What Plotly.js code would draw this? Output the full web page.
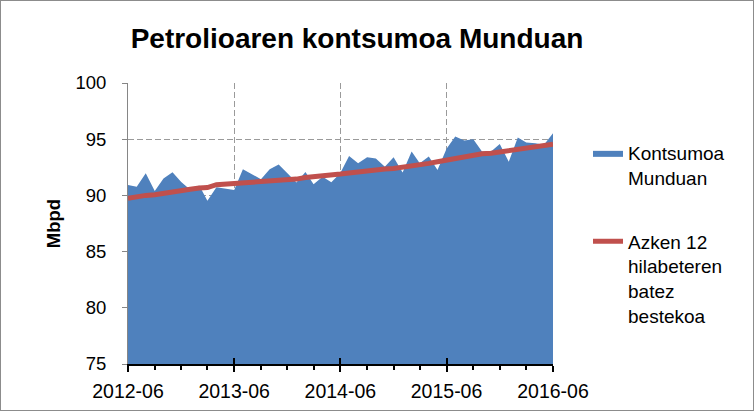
<!DOCTYPE html>
<html><head><meta charset="utf-8">
<script src="https://cdn.plot.ly/plotly-3.0.1.min.js"></script>
<style>
html,body{margin:0;padding:0;background:#fff}
#wrap{position:relative;width:754px;height:411px}
#chart{width:754px;height:411px}
#frame{position:absolute;left:0;top:0;width:754px;height:411px;box-sizing:border-box;border:1px solid #8c8c8c;pointer-events:none}
</style>
</head><body>
<div id="wrap"><div id="chart"></div><div id="frame"></div></div>
<script>
// Monthly data, 2012-06 .. 2016-06 (Mbpd)
const consumption = [
  90.93, 90.78, 91.97, 90.40, 91.50, 92.06, 91.20, 90.50, 90.87, 89.53, 90.73, 90.64,
  90.49, 92.33, 91.88, 91.44, 92.33, 92.74, 91.97, 91.14, 92.09, 91.00, 91.67, 91.17,
  92.00, 93.51, 92.86, 93.40, 93.28, 92.56, 93.40, 92.03, 93.90, 92.86, 93.45, 92.27,
  94.14, 95.23, 94.88, 95.00, 93.90, 93.90, 94.58, 93.00, 95.15, 94.70, 94.64, 94.50,
  95.53
];
const avg12 = [
  89.75, 89.90, 90.00, 90.05, 90.20, 90.30, 90.40, 90.55, 90.65, 90.70, 90.95, 91.00,
  91.00, 91.05, 91.10, 91.15, 91.25, 91.35, 91.40, 91.45, 91.60, 91.65, 91.75, 91.80,
  91.90, 92.00, 92.10, 92.25, 92.30, 92.35, 92.40, 92.50, 92.60, 92.75, 92.85, 93.00,
  93.15, 93.30, 93.45, 93.60, 93.70, 93.75, 93.85, 93.95, 94.05, 94.20, 94.35, 94.45,
  94.55
];
const firstMonth = '2012-06-01';
const lastMonth = '2016-06-01';
const seriesNames = ['Kontsumoa<br>Munduan', 'Azken 12<br>hilabeteren<br>batez<br>bestekoa'];
const titleText = 'Petrolioaren kontsumoa Munduan';
const yTitle = 'Mbpd';

const months = [];
for (let i = 0; i < consumption.length; i++) {
  const d = new Date(Date.UTC(2012, 5 + i, 1));
  months.push(d.toISOString().slice(0, 10));
}

const FONT = 'Liberation Sans, Arial, sans-serif';
const GRID = '#9a9a9a';

const traces = [
  {
    x: months, y: consumption, type: 'scatter', mode: 'lines',
    fill: 'tozeroy', fillcolor: '#4F81BD',
    line: {color: '#4F81BD', width: 0},
    name: seriesNames[0], legendgroup: 'a', hoverinfo: 'skip'
  },
  {
    x: months, y: avg12, type: 'scatter', mode: 'lines',
    line: {color: '#C0504D', width: 5},
    name: seriesNames[1], legendgroup: 'b', hoverinfo: 'skip'
  },
  {
    x: [firstMonth], y: [null], xaxis: 'x2', type: 'scatter', mode: 'lines',
    showlegend: false, hoverinfo: 'skip'
  }
];

const layout = {
  width: 754, height: 411, autosize: false,
  margin: {l: 128, r: 201, t: 83, b: 47, pad: 0},
  paper_bgcolor: '#fff', plot_bgcolor: '#fff',
  font: {family: FONT, color: '#000', size: 18},
  title: {
    text: '<b>' + titleText + '</b>',
    font: {family: FONT, size: 28, color: '#000'},
    xref: 'container', x: 357 / 754, xanchor: 'center',
    yref: 'container', y: 1 - 38 / 411, yanchor: 'middle'
  },
  showlegend: true,
  legend: {
    xref: 'container', x: 588 / 754, xanchor: 'left',
    yref: 'container', y: 1 - 134 / 411, yanchor: 'top',
    font: {family: FONT, size: 19, color: '#000'},
    tracegroupgap: 36, valign: 'top', bgcolor: 'rgba(0,0,0,0)'
  },
  xaxis: {
    type: 'date', range: [firstMonth, lastMonth],
    tick0: firstMonth, dtick: 'M12', tickformat: '%Y-%m',
    ticks: 'outside', ticklen: 6, tickwidth: 2, tickcolor: '#000',
    showline: true, linecolor: '#000', linewidth: 2,
    showgrid: true, gridcolor: GRID, griddash: '6px,3px', gridwidth: 1,
    minor: {tick0: firstMonth, dtick: 'M3', ticks: 'outside', ticklen: 4, tickwidth: 2, tickcolor: '#000', showgrid: false},
    tickfont: {family: FONT, size: 19.5, color: '#000'},
    ticklabelstandoff: 3,
    zeroline: false, fixedrange: true
  },
  xaxis2: {
    type: 'date', range: [firstMonth, lastMonth], overlaying: 'x', anchor: 'y', side: 'bottom',
    tick0: firstMonth, dtick: 'M12',
    ticks: 'inside', ticklen: 6, tickwidth: 2, tickcolor: '#000',
    showticklabels: false, showgrid: false, showline: false, zeroline: false, fixedrange: true
  },
  yaxis: {
    range: [75, 100], tick0: 75, dtick: 5,
    ticks: 'outside', ticklen: 5, tickwidth: 1, tickcolor: '#868686',
    showline: true, linecolor: '#868686', linewidth: 1,
    showgrid: true, gridcolor: GRID, griddash: '6px,3px', gridwidth: 1,
    tickfont: {family: FONT, size: 18.5, color: '#000'},
    ticklabelstandoff: 12,
    zeroline: false, fixedrange: true,
    title: {text: '<b>' + yTitle + '</b>', font: {family: FONT, size: 18.5, color: '#000'}, standoff: 9}
  },
  hovermode: false
};

Plotly.newPlot('chart', traces, layout, {displayModeBar: false, staticPlot: true, responsive: false});
</script>
</body></html>
